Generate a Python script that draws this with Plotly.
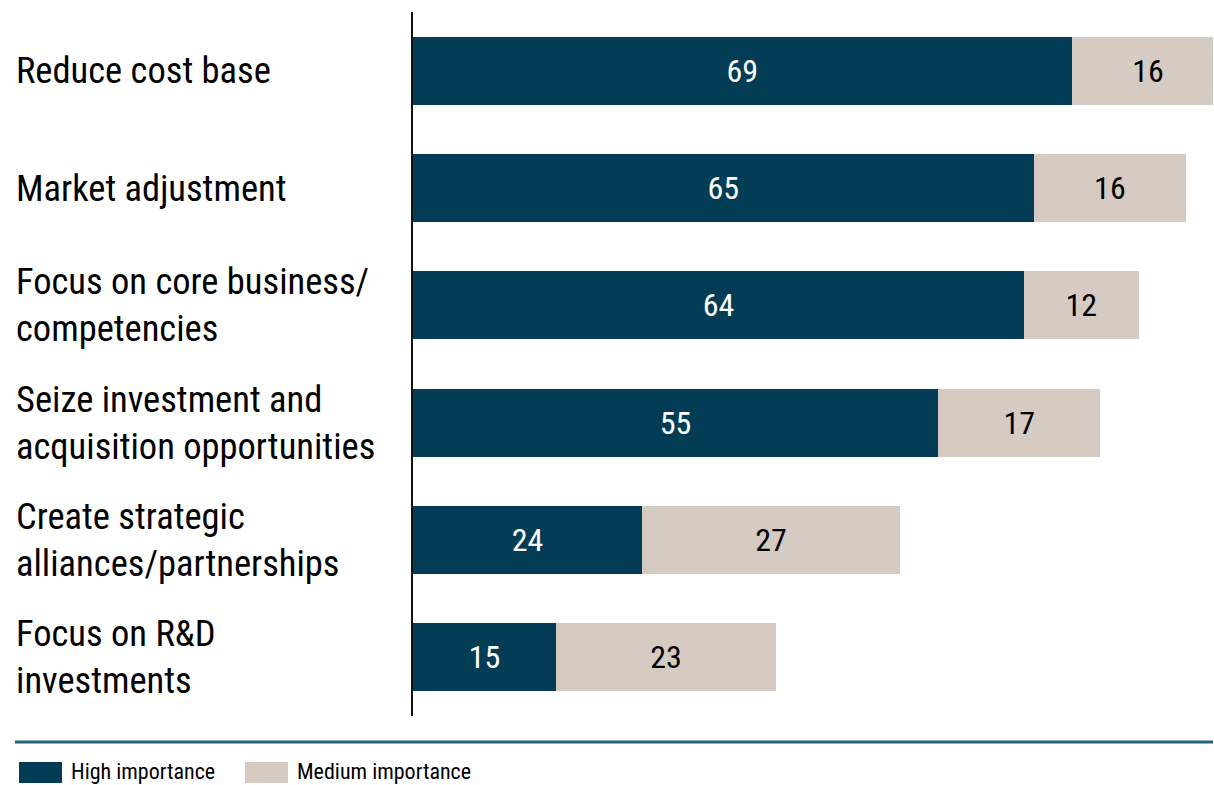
import plotly.graph_objects as go

# Survey answers: share of respondents (%)
categories = [
    "Reduce cost base",
    "Market adjustment",
    "Focus on core business/<br>competencies",
    "Seize investment and<br>acquisition opportunities",
    "Create strategic<br>alliances/partnerships",
    "Focus on R&D<br>investments",
]
high_importance = [69, 65, 64, 55, 24, 15]
medium_importance = [16, 16, 12, 17, 27, 23]
series_names = ["High importance", "Medium importance"]

DARK = "#033d55"
LIGHT = "#d6cbc2"
RULE = "#22627f"
FONT = "Roboto Condensed, Liberation Sans, sans-serif"

W, H = 1214, 785
ML, MR, MT, MB = 413, 1, 12, 69
PW = W - ML - MR
PH = H - MT - MB

fig = go.Figure()
fig.add_trace(go.Bar(
    y=categories, x=high_importance, orientation="h", name=series_names[0],
    marker=dict(color=DARK, line=dict(width=0)), width=0.58,
    text=high_importance, textposition="inside", insidetextanchor="middle",
    textfont=dict(family=FONT, size=32, color="white"),
))
fig.add_trace(go.Bar(
    y=categories, x=medium_importance, orientation="h", name=series_names[1],
    marker=dict(color=LIGHT, line=dict(width=0)), width=0.58,
    text=medium_importance, textposition="inside", insidetextanchor="middle",
    textfont=dict(family=FONT, size=32, color="black"),
))

def px_x(p):
    return (p - ML) / PW

def px_y(p):
    return 1 - (p - MT) / PH

# Left-aligned category labels
annotations = []
for cat in categories:
    annotations.append(dict(
        text=cat, xref="paper", yref="y", x=px_x(14), y=cat,
        xanchor="left", yanchor="middle", align="left", showarrow=False,
        font=dict(family=FONT, size=36.5, color="black"),
    ))

# Legend drawn under a horizontal rule
legend_items = [(series_names[0], DARK, 19), (series_names[1], LIGHT, 245)]
shapes = [dict(type="line", xref="paper", yref="paper",
               x0=px_x(15), x1=px_x(1213), y0=px_y(742), y1=px_y(742),
               line=dict(color=RULE, width=3))]
for name, color, x0 in legend_items:
    shapes.append(dict(type="rect", xref="paper", yref="paper",
                       x0=px_x(x0), x1=px_x(x0 + 43), y0=px_y(783), y1=px_y(762),
                       fillcolor=color, line=dict(width=0)))
    annotations.append(dict(
        text=name, xref="paper", yref="paper", x=px_x(x0 + 50), y=px_y(771),
        xanchor="left", yanchor="middle", showarrow=False,
        font=dict(family=FONT, size=22, color="black"),
    ))

fig.update_layout(
    barmode="stack",
    width=W, height=H,
    margin=dict(l=ML, r=MR, t=MT, b=MB, pad=0),
    paper_bgcolor="white", plot_bgcolor="white",
    showlegend=False,
    xaxis=dict(range=[0, 83.8], visible=False, fixedrange=True),
    yaxis=dict(autorange="reversed", showticklabels=False, showgrid=False,
               zeroline=False, showline=True, linecolor="#111111", linewidth=2,
               ticks=""),
    uniformtext=dict(minsize=32, mode="show"),
    annotations=annotations,
    shapes=shapes,
)

fig.write_html("out.html")
